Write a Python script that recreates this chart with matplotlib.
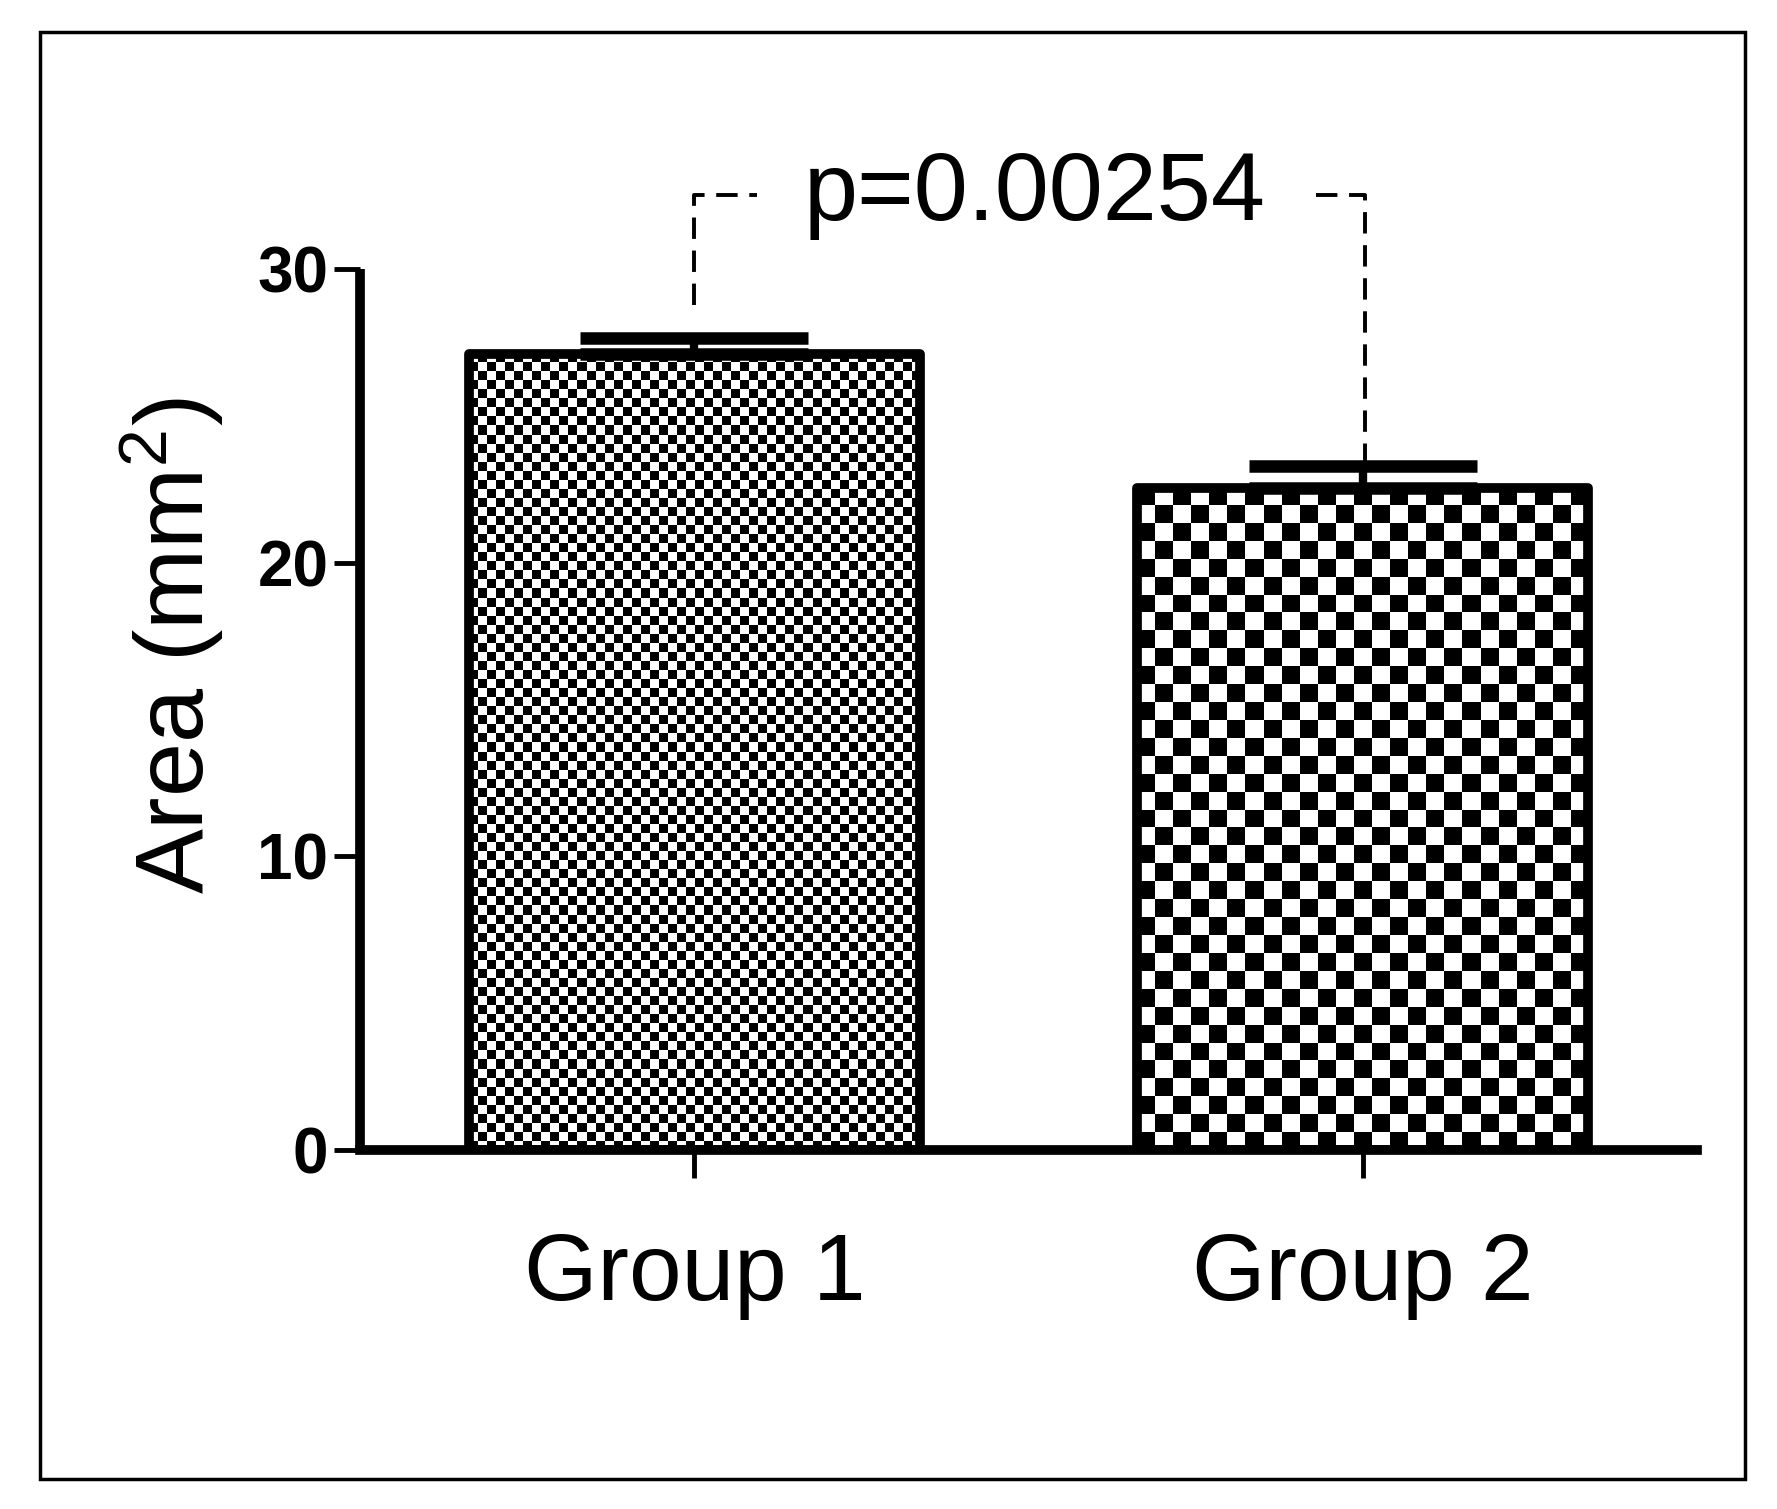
import numpy as np
import matplotlib
matplotlib.use("Agg")
import matplotlib.pyplot as plt
from matplotlib.patches import Rectangle

plt.rcParams['font.family'] = ['Liberation Sans', 'DejaVu Sans']
plt.rcParams['mathtext.default'] = 'regular'

categories = ["Group 1", "Group 2"]
means = [27.1, 22.55]
sem_upper = [0.55, 0.75]
p_text = "p=0.00254"
yticks = [0, 10, 20, 30]
ylabel = "Area (mm$^2$)"

W, H, DPI = 1777, 1509, 100
fig = plt.figure(figsize=(W / DPI, H / DPI), dpi=DPI)
fig.patch.set_facecolor("white")

# outer frame
fig.add_artist(Rectangle((0.0225, 0.0199), 0.9595, 0.9591, transform=fig.transFigure,
                         fill=False, edgecolor="black", linewidth=2.5))

ax = fig.add_axes([0.2028, 0.2377, 0.752, 0.5843])
x = np.arange(len(categories))
ax.set_xlim(-0.5, 1.5)
ax.set_ylim(0, 30)

bars = ax.bar(x, means, width=0.675, facecolor="none", edgecolor="black",
              linewidth=7, zorder=3, joinstyle="round")

fig.canvas.draw()
square_px = [9.0, 17.7]
for b, sq in zip(bars, square_px):
    x0, y0 = b.get_x(), b.get_y()
    w, h = b.get_width(), b.get_height()
    p0 = ax.transData.transform((x0, y0))
    p1 = ax.transData.transform((x0 + w, y0 + h))
    nx = max(1, int(round(abs(p1[0] - p0[0]) / sq)))
    ny = max(1, int(round(abs(p1[1] - p0[1]) / sq)))
    ii, jj = np.indices((ny, nx))
    pat = ((ii + jj) % 2).astype(float)
    im = ax.imshow(pat, cmap="gray", vmin=0, vmax=1, interpolation="nearest",
                   extent=(x0, x0 + w, y0, y0 + h), origin="lower",
                   aspect="auto", zorder=2)
    im.set_clip_path(b)

ax.set_xlim(-0.5, 1.5)
ax.set_ylim(0, 30)

ax.errorbar(x, means, yerr=[[0, 0], sem_upper], fmt="none", ecolor="black",
            elinewidth=6, capsize=82, capthick=9, zorder=4)

# significance bracket
by = 32.5
dash = dict(color="black", linewidth=2.8, dashes=(5.5, 3), clip_on=False, zorder=5)
ax.plot([x[0], x[0], 0.094], [means[0] + sem_upper[0] + 1.1, by, by], **dash)
ax.plot([0.93, x[1] + 0.003, x[1] + 0.003], [by, by, means[1] + sem_upper[1] + 0.1], **dash)
ax.text(0.51, by, p_text, ha="center", va="center", fontsize=70, clip_on=False)

for s in ["top", "right"]:
    ax.spines[s].set_visible(False)
ax.spines["left"].set_linewidth(7)
ax.spines["bottom"].set_linewidth(7)
ax.spines["left"].set_capstyle("butt")

ax.set_yticks(yticks)
ax.set_yticklabels([str(t) for t in yticks], fontsize=46, fontweight="bold")
ax.tick_params(axis="y", length=19, width=3.5, pad=4)
ax.set_xticks(x)
ax.set_xticklabels(categories, fontsize=68)
ax.tick_params(axis="x", length=20, width=3.5, pad=38)
ax.set_facecolor("none")

fig.text(0.097, 0.572, ylabel, rotation=90, ha="center", va="center", fontsize=70)

fig.savefig("out.png", dpi=DPI, facecolor="white")
